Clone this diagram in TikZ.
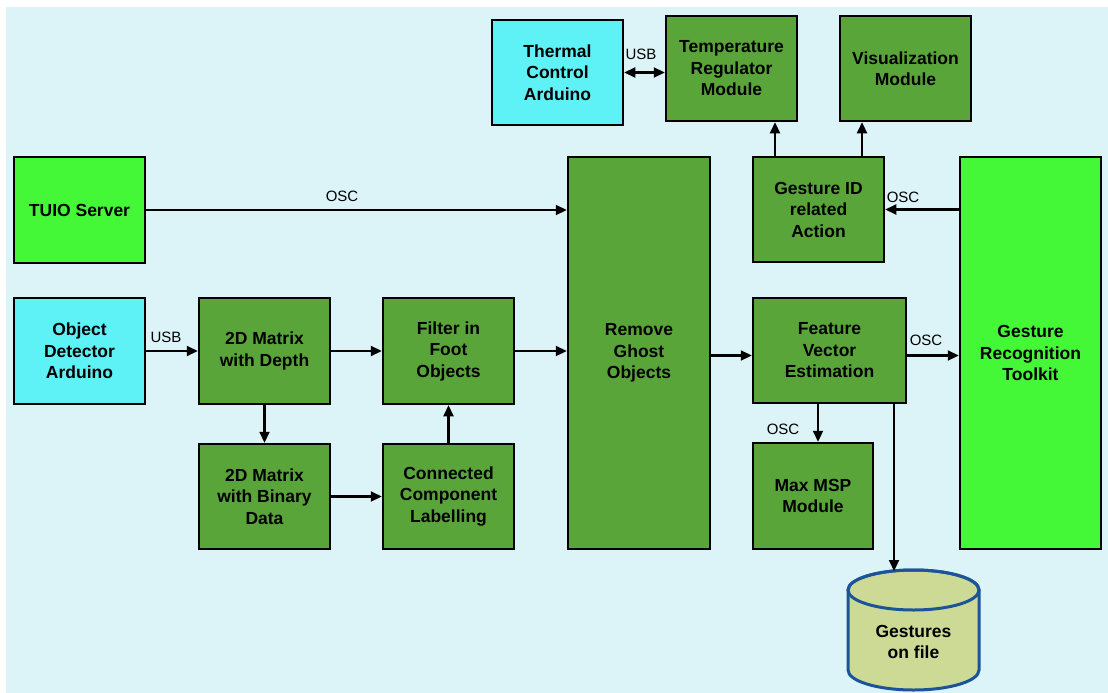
\documentclass[tikz,border=0pt]{standalone}
\usepackage{fontspec}
\setmainfont{Liberation Sans}
\usetikzlibrary{arrows.meta}
\definecolor{bgc}{RGB}{220,243,248}
\definecolor{dgreen}{RGB}{89,165,58}
\definecolor{bgreen}{RGB}{68,248,56}
\definecolor{cyanbox}{RGB}{94,241,246}
\definecolor{cylfill}{RGB}{204,218,150}
\definecolor{cylblue}{RGB}{28,84,154}
\begin{document}
\begin{tikzpicture}[x=1pt,y=-1pt,
  box/.style={draw=black, line width=2.5pt, inner sep=0pt, align=center,
    font=\fontsize{17.5}{21.5}\selectfont\bfseries},
  dg/.style={box, fill=dgreen},
  bg/.style={box, fill=bgreen},
  cy/.style={box, fill=cyanbox},
  sz/.style 2 args={minimum width=#1pt, minimum height=#2pt},
  arr/.style={line width=2.2pt, -{Triangle[length=11pt,width=10pt]}},
  biarr/.style={line width=2.2pt, {Triangle[length=11pt,width=10pt]}-{Triangle[length=11pt,width=10pt]}},
  lbl/.style={font=\fontsize{15}{18}\selectfont, inner sep=0pt}]
\fill[white] (0,0) rectangle (1108,693);
\fill[bgc] (6,7) rectangle (1108,693);
\useasboundingbox (0,0) rectangle (1108,693);

% boxes
\node[bg, sz={131}{106}] (tuio) at (79.5,210) {TUIO Server};
\node[cy, sz={131}{106}] (obj) at (79.5,351) {Object\\Detector\\Arduino};
\node[dg, sz={131}{106}] (d2depth) at (264.5,351) {2D Matrix\\with Depth};
\node[dg, sz={131}{106}] (filter) at (448.5,351) {Filter in\\Foot\\Objects};
\node[dg, sz={131}{105}] (d2bin) at (264.5,496.5) {2D Matrix\\with Binary\\Data};
\node[dg, sz={131}{105}] (ccl) at (448.5,496.5) {Connected\\Component\\Labelling};
\node[dg, sz={142}{392}] (ghost) at (639,353) {Remove\\Ghost\\Objects};
\node[cy, sz={131}{105}] (thermal) at (557.5,72.5) {Thermal\\Control\\Arduino};
\node[dg, sz={131}{105}] (temp) at (731.5,68.5) {Temperature\\Regulator\\Module};
\node[dg, sz={131}{105}] (vis) at (905.5,68.5) {Visualization\\Module};
\node[dg, sz={131}{105}] (gid) at (818.5,209.5) {Gesture ID\\related\\Action};
\node[bg, sz={141}{392}] (grt) at (1030.5,353) {Gesture\\Recognition\\Toolkit};
\node[dg, sz={153}{105}] (fve) at (829.5,350.5) {Feature\\Vector\\Estimation};
\node[dg, sz={120}{106}] (maxmsp) at (813,496) {Max MSP\\Module};

% cylinder
\filldraw[fill=cylfill, draw=cylblue, line width=3pt]
  (848,590) -- (848,670)
  arc[start angle=180, end angle=360, x radius=65.5pt, y radius=20pt]
  -- (979,590)
  arc[start angle=0, end angle=180, x radius=65.5pt, y radius=20pt] -- cycle;
\draw[cylblue, line width=3pt] (913.5,590) ellipse[x radius=65.5pt, y radius=20pt];
\node[inner sep=0pt, align=center, font=\fontsize{17.5}{21.5}\selectfont\bfseries] (gof) at (913.5,642) {Gestures\\on file};
\coordinate (cyltop) at (894,571);

% connectors
\draw[arr] (tuio.east) -- (tuio.east -| ghost.west);
\draw[arr] (obj.east) -- (d2depth.west);
\draw[arr] (d2depth.east) -- (filter.west);
\draw[arr] (filter.east) -- (filter.east -| ghost.west);
\draw[arr] (d2depth.south) -- (d2bin.north);
\draw[arr] (d2bin.east) -- (ccl.west);
\draw[arr] (ccl.north) -- (filter.south);
\draw[arr] ([yshift=-5pt]fve.west -| ghost.east) -- ([yshift=-5pt]fve.west);
\draw[arr] ([yshift=-5pt]fve.east) -- ([yshift=-5pt]fve.east -| grt.west);
\draw[arr] ([xshift=-11.5pt]fve.south) coordinate (fm) -- (fm |- maxmsp.north);
\draw[arr] (fve.south -| cyltop) -- (cyltop);
\draw[arr] (grt.west |- gid.east) -- (gid.east);
\draw[arr] ([xshift=-43.5pt]gid.north) coordinate (gt) -- (gt |- temp.south);
\draw[arr] ([xshift=43.5pt]gid.north) coordinate (gv) -- (gv |- vis.south);
\draw[biarr] (thermal.east) -- (thermal.east -| temp.west);

% labels
\node[lbl] (l1) at (342,196) {OSC};
\node[lbl] (l2) at (166,337) {USB};
\node[lbl] (l3) at (641,54.5) {USB};
\node[lbl] (l4) at (903,197) {OSC};
\node[lbl] (l5) at (926,340.5) {OSC};
\node[lbl] (l6) at (783,429) {OSC};
\end{tikzpicture}
\end{document}
